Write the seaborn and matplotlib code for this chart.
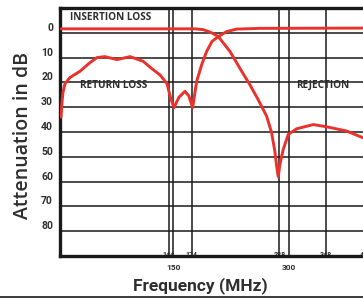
import matplotlib
matplotlib.use("Agg")
import matplotlib.pyplot as plt
from matplotlib.lines import Line2D
import seaborn as sns
import pandas as pd

# Return loss curve (MHz, dB)
rl_freq = [4.3, 5.6, 6.9, 9.5, 16, 29, 42, 51, 61, 77, 94, 111, 122.5, 133, 142,
           146, 151, 157.5, 165.3, 170.5, 175.3, 180.5, 187, 193.5, 200.4, 208.6,
           219.5, 232.5, 262.7, 396.5]
rl_db = [34, 28, 24, 20.5, 18, 15.5, 12, 10, 9.6, 10.8, 9.6, 11.5, 14.5, 17, 20.5,
         25.5, 30.2, 26, 23.6, 25.5, 30.2, 19.6, 12.9, 7.5, 3.5, 1.5,
         -0.5, -1.5, -1.8, -1.9]

# Insertion loss / rejection curve (MHz, dB)
il_freq = [4.3, 178.3, 188.7, 195.2, 200, 208.6, 223.8, 239, 249.8, 260.5, 271.4,
           277.9, 282.2, 284.4, 286.5, 288.7, 293, 299.5, 310.4, 332, 349.4, 375.3, 396.5]
il_db = [-1.6, -1.6, -1.3, -0.6, 0, 1.5, 7.5, 15.5, 21, 27, 33.6,
         40.3, 48, 53.7, 58, 53, 47, 41, 38.7, 37, 37.9, 39.6, 42.3]

y_ticks = [0, 10, 20, 30, 40, 50, 60, 70, 80]
x_major = [150, 300]
x_minor = [144, 174, 288, 348, 400]

red = "#e8322b"
ink = "#1a1a1a"
txt = "#2e2e2e"
narrow = ["Liberation Sans Narrow", "Roboto", "DejaVu Sans"]

sns.set_theme(style="white")
plt.rcParams["font.family"] = ["Open Sans", "DejaVu Sans"]

fig = plt.figure(figsize=(3.63, 2.99), dpi=100)
ax = fig.add_axes([0.1653, 0.1438, 0.8843, 0.8294])

rl = pd.DataFrame({"freq": rl_freq, "db": rl_db})
il = pd.DataFrame({"freq": il_freq, "db": il_db})
sns.lineplot(data=rl, x="freq", y="db", ax=ax, color=red, lw=2.1, zorder=3)
sns.lineplot(data=il, x="freq", y="db", ax=ax, color=red, lw=2.1, zorder=3)

ax.set_xlim(3, 420)
ax.set_ylim(90, -10)

ax.set_yticks(y_ticks)
ax.set_yticklabels([str(v) for v in y_ticks], family=narrow, weight="bold",
                   fontsize=7.5, color=txt)
ax.set_xticks(x_major)
ax.set_xticklabels([str(v) for v in x_major], family=narrow, weight="bold",
                   fontsize=6, color=txt)
ax.set_xticks(x_minor, minor=True)
ax.set_xticklabels([str(v) for v in x_minor], minor=True, family=narrow,
                   weight="bold", fontsize=5, color=txt)
ax.tick_params(axis="y", length=0, pad=5)
for lab in ax.get_yticklabels():
    lab.set_verticalalignment("bottom")
ax.tick_params(axis="x", which="major", length=0, pad=6)
ax.tick_params(axis="x", which="minor", length=0, pad=-3.5)

ax.grid(False)
ax.grid(True, axis="y", which="major", color=ink, lw=1.1)
ax.grid(True, axis="x", which="both", color=ink, lw=1.1)

for side in ["left", "top", "bottom"]:
    ax.spines[side].set_color(ink)
    ax.spines[side].set_linewidth(2.4)
ax.spines["right"].set_visible(False)

ax.set_xlabel("")
ax.set_ylabel("")

ax.text(16, -6, "INSERTION LOSS", fontsize=7.2, weight="bold", color=txt,
        va="center", ha="left")
ax.text(29, 21.3, "RETURN LOSS", fontsize=7.2, weight="bold", color=txt,
        va="center", ha="left")
ax.text(309.5, 21.3, "REJECTION", fontsize=7.2, weight="bold", color=txt,
        va="center", ha="left")

fig.text(23 / 363, 1 - 136 / 299, "Attenuation in dB", rotation=90,
         fontsize=14, weight="semibold", color=txt, ha="center", va="center")
fig.text(200 / 363, 1 - 286 / 299, "Frequency (MHz)", family=narrow,
         fontsize=12.5, weight="bold", color=txt, ha="center", va="center")

fig.add_artist(Line2D([0, 1], [1 - 297 / 299] * 2, color=ink, lw=1.2))

fig.savefig("out.png", dpi=100)
